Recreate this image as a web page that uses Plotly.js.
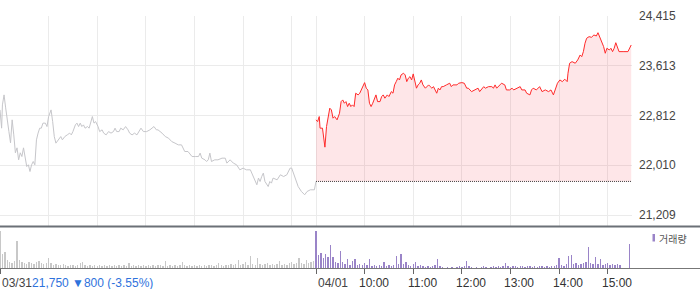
<!DOCTYPE html>
<html>
<head>
<meta charset="utf-8">
<script src="https://cdn.plot.ly/plotly-3.0.1.min.js"></script>
<style>html,body{margin:0;padding:0;background:#fff;}#chart{width:700px;height:289px;}</style>
</head>
<body>
<div id="chart"></div>
<script>
// minutes since 03/31 09:00 on a continuous two-session axis (each session 09:00-15:30 = 390 min)
const day1Min = [0,2,3,5,7,9,11,13,15,17,
 19,21,23,25,27,29,31,33,35,37,
 39,41,43,45,47,49,51,53,56,58,
 60,63,65,67,69,72,75,77,80,83,
 86,88,90,93,95,97,99,101,103,105,
 108,110,112,114,116,118,121,123,126,128,
 131,134,137,140,142,144,147,149,152,155,
 158,160,163,166,169,172,174,177,181,185,
 188,190,193,195,200,204,208,212,216,220,
 224,228,232,237,241,245,247,249,253,255,
 257,259,261,265,269,274,278,280,284,288,
 292,296,300,304,309,313,315,317,319,321,
 323,325,327,331,333,335,337,342,346,350,
 354,358,360,364,368,372,376,379,383,388,
 390];
const day1Price = [22902,22608,22983,23144,22935,22774,22553,22372,22742,22500,
 22211,22291,22098,22211,22151,22291,22151,21990,22018,21910,
 22018,22071,22018,22420,22528,22608,22608,22689,22689,22634,
 22795,22902,22714,22473,22367,22420,22473,22420,22473,22500,
 22528,22500,22553,22661,22689,22634,22689,22634,22661,22608,
 22634,22608,22689,22795,22689,22714,22634,22553,22581,22528,
 22500,22553,22528,22553,22608,22553,22553,22608,22581,22634,
 22581,22528,22500,22528,22500,22581,22608,22553,22553,22581,
 22608,22634,22581,22581,22528,22473,22447,22392,22367,22339,
 22339,22232,22232,22151,22151,22151,22206,22125,22098,22071,
 22098,22206,22071,22098,22098,22125,22125,22045,22098,22045,
 22018,21937,21964,21937,21937,21829,21776,21696,21804,21749,
 21829,21884,21749,21668,21749,21723,21804,21776,21857,21829,
 21857,21964,21964,21804,21668,21588,21535,21588,21615,21615,
 21750];
const day2Min = [390,392,394,395,398,400,401,403,405,407,
 409,411,413,416,419,421,423,425,427,429,
 431,433,435,437,439,442,444,447,450,452,
 454,456,458,460,462,464,466,469,471,473,
 475,478,480,483,485,487,489,491,493,495,
 498,500,502,504,506,508,510,512,514,516,
 518,520,522,525,527,529,531,533,535,537,
 539,541,543,545,547,551,555,557,559,564,
 566,570,573,576,578,582,586,590,592,597,
 599,603,607,609,611,613,617,619,623,625,
 629,632,634,638,642,644,648,650,654,656,
 658,662,666,669,673,677,680,683,686,688,
 691,694,697,700,701,703,706,710,713,716,
 718,720,722,724,727,730,733,736,738,741,
 743,745,747,749,752,754,756,758,760,762,
 764,769,775,779];
const day2Price = [22742,22714,22795,22608,22608,22420,22302,22634,22795,22930,
 22902,22769,22795,22742,22849,23036,23063,23010,23036,22956,
 23010,22956,22983,22956,23171,23144,23171,23252,23342,23252,
 23224,23010,22956,23010,23091,23144,23036,23036,23117,23144,
 23091,23144,23117,23197,23171,23305,23358,23413,23385,23466,
 23493,23466,23358,23413,23438,23385,23482,23358,23252,23305,
 23332,23385,23305,23252,23277,23305,23277,23252,23277,23224,
 23171,23252,23224,23277,23277,23305,23332,23277,23305,23305,
 23332,23342,23332,23252,23252,23197,23224,23252,23197,23277,
 23252,23277,23277,23252,23305,23252,23305,23332,23305,23224,
 23224,23252,23224,23252,23277,23224,23224,23171,23144,23224,
 23252,23224,23277,23197,23224,23197,23224,23144,23277,23332,
 23385,23358,23397,23358,23493,23654,23680,23654,23707,23787,
 23760,23841,23976,24056,24082,24072,24109,24093,24146,24056,
 24001,23921,23815,23895,23868,23895,23841,23895,23985,23895,
 23841,23841,23841,23948];
const prevClose = 21750;
const prevCloseText = "21,750";
const changeText = "▼800 (-3.55%)";

// volume, one bar per 3 minutes
const volStep = 3;
const vol1 = [37,14,16,8,6,5,7,27,8,6,
 5,4,6,5,4,6,7,5,4,5,
 10,5,3,4,3,3,4,3,2,3,
 3,2,3,5,6,3,2,3,2,3,
 2,3,2,3,2,3,2,3,2,3,
 2,3,2,5,2,3,2,3,2,3,
 2,3,2,3,2,3,3,2,7,2,
 3,2,3,2,3,6,3,2,3,2,
 3,2,3,2,3,2,3,3,2,3,
 5,3,2,3,3,4,3,4,8,3,
 4,6,3,12,4,3,10,4,3,4,
 5,3,4,3,4,7,3,4,3,5,
 6,4,5,10,5,4,8,5,6,7];
const vol2 = [37,13,15,10,14,11,23,11,6,5,
 17,6,4,9,3,7,9,3,4,3,
 5,3,9,2,3,2,3,2,6,2,
 3,2,3,12,4,14,4,6,3,2,
 4,6,2,3,2,1,2,1,2,3,
 9,2,1,0,1,0,1,0,1,2,
 1,2,7,2,1,0,1,0,1,2,
 1,0,1,2,1,2,1,2,5,2,
 1,2,2,1,2,2,1,2,2,1,
 2,1,2,2,1,2,1,2,2,3,
 10,3,2,4,12,13,4,5,3,4,
 5,6,21,5,4,11,4,9,3,4,
 5,3,4,3,4,3,0,0,0,24];

const yTicks = [21209, 22010, 22812, 23613, 24415];
const gridMin = [0,60,120,180,240,300,360,390,450,510,570,630,690,750];
const dayTickMin = [0, 390];
const dayLabels = ["03/31", "04/01"];
const timeTickMin = [450,510,570,630,690,750];
const timeLabels = ["10:00","11:00","12:00","13:00","14:00","15:00"];
const volumeLabel = "거래량";

const vol1Min = vol1.map((_, i) => i * volStep);
const vol2Min = vol2.map((_, i) => dayTickMin[1] + i * volStep);

const FONT = "'Liberation Sans', Arial, sans-serif";
const BLUE = "#2f72dc";
const PURPLE = "#9a84c8";

const traces = [
  {x: day1Min, y: day1Price, type: 'scatter', mode: 'lines', xaxis: 'x', yaxis: 'y',
   line: {color: '#c6c6ca', width: 1}, hoverinfo: 'skip'},
  {x: [day2Min[0], day2Min[day2Min.length-1]], y: [prevClose, prevClose], type: 'scatter', mode: 'lines',
   xaxis: 'x', yaxis: 'y', line: {color: '#444', width: 1, dash: '1px,1px'}, hoverinfo: 'skip'},
  {x: day2Min, y: day2Price, type: 'scatter', mode: 'lines', xaxis: 'x', yaxis: 'y',
   line: {color: '#ff2a2a', width: 1}, fill: 'tonexty', fillcolor: 'rgba(250,30,50,0.11)', hoverinfo: 'skip'},
  {x: vol1Min, y: vol1, type: 'bar', xaxis: 'x2', yaxis: 'y2', width: 1.7,
   marker: {color: '#c8c8c8', line: {width: 0}}, hoverinfo: 'skip'},
  {x: vol2Min, y: vol2, type: 'bar', xaxis: 'x2', yaxis: 'y2', width: 1.7,
   marker: {color: PURPLE, line: {width: 0}}, hoverinfo: 'skip'}
];

const H = 289, T = 16, B = 21, plotH = H - T - B; // 252
const py = (pix) => (H - B - pix) / plotH; // pixel y -> paper y
const plotW = 632;
const px = (pix) => pix / plotW;

const annotations = [];
annotations.push({xref: 'x2', yref: 'paper', x: dayTickMin[0], y: 0, yshift: -15, xanchor: 'left', yanchor: 'middle',
  showarrow: false, font: {family: FONT, size: 12, color: '#444'},
  text: dayLabels[0] + '<span style="color:' + BLUE + '">' + prevCloseText + ' ' + changeText + '</span>'});
annotations.push({xref: 'x2', yref: 'paper', x: dayTickMin[1], y: 0, yshift: -15, xanchor: 'left', yanchor: 'middle',
  showarrow: false, font: {family: FONT, size: 12, color: '#444'}, text: dayLabels[1]});
timeTickMin.forEach((m, i) => annotations.push({xref: 'x2', yref: 'paper', x: m, y: 0, xshift: 9, yshift: -15,
  xanchor: 'center', yanchor: 'middle', showarrow: false, font: {family: FONT, size: 12, color: '#333'}, text: timeLabels[i]}));
annotations.push({xref: 'paper', yref: 'paper', x: px(656.5), y: py(238), xanchor: 'left', yanchor: 'middle',
  showarrow: false, font: {family: "'Noto Sans CJK KR', sans-serif", size: 10, color: '#555'}, text: volumeLabel});

const shapes = [
  {type: 'line', xref: 'paper', yref: 'paper', x0: 0, x1: px(700), y0: py(226.5), y1: py(226.5),
   line: {color: '#6b7077', width: 2}},
  {type: 'line', xref: 'paper', yref: 'paper', x0: 0, x1: px(700), y0: py(268.5), y1: py(268.5),
   line: {color: '#777', width: 1}},
  {type: 'rect', xref: 'paper', yref: 'paper', x0: px(652.5), x1: px(655), y0: py(241.5), y1: py(234),
   fillcolor: PURPLE, line: {width: 0}}
];

const layout = {
  width: 700, height: 289,
  margin: {l: 0, r: 700 - plotW, t: T, b: B, pad: 0},
  paper_bgcolor: '#fff', plot_bgcolor: '#fff',
  showlegend: false, hovermode: false,
  font: {family: FONT, size: 12, color: '#333'},
  bargap: 0,
  xaxis: {range: [0, 780], anchor: 'y', tickmode: 'array', tickvals: gridMin, showticklabels: false,
    showgrid: true, gridcolor: '#ebebeb', gridwidth: 1, zeroline: false, showline: false, ticks: '', fixedrange: true},
  xaxis2: {range: [0, 780], anchor: 'y2', tickmode: 'array', tickvals: [dayTickMin[0], dayTickMin[1]].concat(timeTickMin),
    showticklabels: false, showgrid: false, zeroline: false, showline: false, ticks: 'outside', ticklen: 5,
    tickcolor: '#666', tickwidth: 1, fixedrange: true},
  yaxis: {domain: [py(226), 1], range: [21032, 24415], side: 'right', tickmode: 'array', tickvals: yTicks,
    tickformat: ',d', showgrid: true, gridcolor: '#ebebeb', zeroline: false, showline: false, ticks: '',
    ticklabelstandoff: 6, tickfont: {family: FONT, size: 12, color: '#444'}, fixedrange: true},
  yaxis2: {domain: [0, py(230)], range: [0, 38], showgrid: false, zeroline: false, showline: false,
    showticklabels: false, ticks: '', fixedrange: true},
  annotations: annotations,
  shapes: shapes
};

Plotly.newPlot('chart', traces, layout, {staticPlot: true, displayModeBar: false});
</script>
</body>
</html>
